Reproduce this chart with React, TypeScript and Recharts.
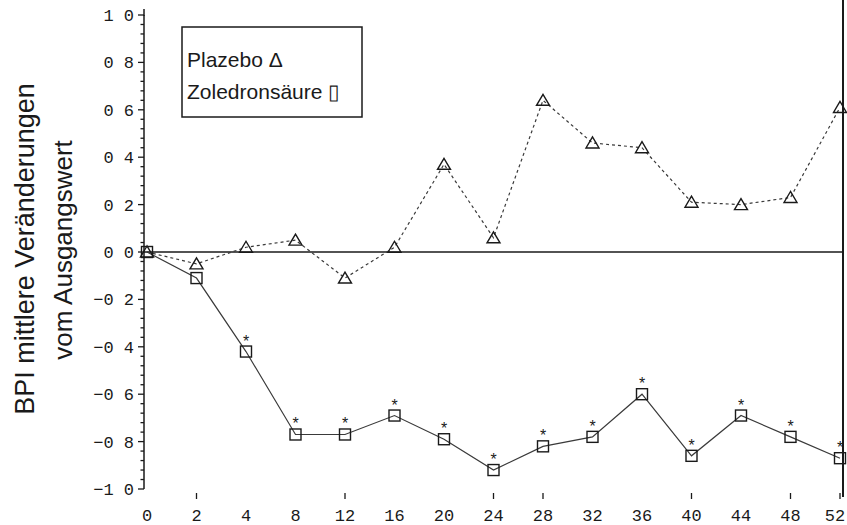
import React from 'react';
import { LineChart, Line, XAxis, YAxis, ReferenceLine } from 'recharts';

const weeks = ['0', '2', '4', '8', '12', '16', '20', '24', '28', '32', '36', '40', '44', '48', '52'];
const plazebo = [0, -0.05, 0.02, 0.05, -0.11, 0.02, 0.37, 0.06, 0.64, 0.46, 0.44, 0.21, 0.2, 0.23, 0.61];
const zoledron = [0, -0.11, -0.42, -0.77, -0.77, -0.69, -0.79, -0.92, -0.82, -0.78, -0.6, -0.86, -0.69, -0.78, -0.87];
const significant = [false, false, true, true, true, true, true, true, true, true, true, true, true, true, true];
const markedWeeks = ['2', '12', '24', '28', '40', '48', '52'];

const yMajorValues = [-1, -0.8, -0.6, -0.4, -0.2, 0, 0.2, 0.4, 0.6, 0.8, 1];
const yMajorLabels = ['\u22121 0', '\u22120 8', '\u22120 6', '\u22120 4', '\u22120 2', '0 0', '0 2', '0 4', '0 6', '0 8', '1 0'];

const seriesNames = ['Plazebo \u0394', 'Zoledronsäure \u25AF'];

const data = weeks.map((w, i) => ({
  week: w,
  plazebo: plazebo[i],
  zoledron: zoledron[i],
  sig: significant[i],
}));

// minor ticks: 4 subdivisions between major ticks
const allTicks: number[] = [];
for (let i = 0; i < yMajorValues.length; i++) {
  allTicks.push(yMajorValues[i]);
  if (i < yMajorValues.length - 1) {
    const a = yMajorValues[i];
    const b = yMajorValues[i + 1];
    for (let k = 1; k < 5; k++) allTicks.push(Math.round((a + ((b - a) * k) / 5) * 1000) / 1000);
  }
}

const INK = '#1a1a1a';
const LINE = '#3a3a3a';
const TICK_FONT = '"Liberation Mono", "DejaVu Sans Mono", monospace';
const TEXT_FONT = '"Liberation Sans", Arial, sans-serif';
const CHART_W = 847;

const YTick = (props: any) => {
  const { x, y, payload } = props;
  const idx = yMajorValues.findIndex((v) => Math.abs(v - payload.value) < 1e-6);
  const major = idx >= 0;
  return (
    <g>
      <line x1={x - (major ? 6 : 3.5)} x2={x} y1={y} y2={y} stroke={INK} strokeWidth={1.3} />
      {major && (
        <text x={x - 10} y={y + 6} textAnchor="end" fontFamily={TICK_FONT} fontSize={17} fill={INK}>
          {yMajorLabels[idx]}
        </text>
      )}
    </g>
  );
};

const XTick = (props: any) => {
  const { x, y, payload } = props;
  const marked = markedWeeks.includes(String(payload.value));
  const tx = Math.min(x, CHART_W - 12);
  return (
    <g>
      {marked && <line x1={x} x2={x} y1={y + 4} y2={y + 10} stroke={INK} strokeWidth={1.3} />}
      <text x={tx} y={y + 32} textAnchor="middle" fontFamily={TICK_FONT} fontSize={17} fill={INK}>
        {payload.value}
      </text>
    </g>
  );
};

const TriangleDot = (props: any) => {
  const { cx, cy, index } = props;
  if (cx == null || cy == null) return <g key={`t${index}`} />;
  return (
    <polygon
      key={`t${index}`}
      points={`${cx},${cy - 6} ${cx - 6.5},${cy + 5} ${cx + 6.5},${cy + 5}`}
      fill="none"
      stroke={INK}
      strokeWidth={1.4}
    />
  );
};

const SquareDot = (props: any) => {
  const { cx, cy, index, payload } = props;
  if (cx == null || cy == null) return <g key={`s${index}`} />;
  return (
    <g key={`s${index}`}>
      <rect x={cx - 5.5} y={cy - 5.5} width={11} height={11} fill="none" stroke={INK} strokeWidth={1.4} />
      {payload && payload.sig && (
        <text x={cx} y={cy - 5} textAnchor="middle" fontFamily={TEXT_FONT} fontSize={16} fill={INK}>
          *
        </text>
      )}
    </g>
  );
};

export default function App() {
  return (
    <div style={{ position: 'absolute', left: 0, top: 0, width: 847, height: 525, background: '#fff' }}>
      <LineChart width={847} height={525} data={data} margin={{ top: 15, right: 4, bottom: 0, left: 0 }}>
        <XAxis
          dataKey="week"
          type="category"
          height={36}
          axisLine={false}
          tickLine={false}
          tickSize={0}
          tickMargin={0}
          interval={0}
          padding={{ left: 3, right: 3 }}
          tick={<XTick />}
        />
        <YAxis
          type="number"
          domain={[-1, 1]}
          ticks={allTicks}
          interval={0}
          width={144}
          tickLine={false}
          tickSize={0}
          tickMargin={0}
          axisLine={{ stroke: INK, strokeWidth: 1.5 }}
          tick={<YTick />}
          allowDataOverflow
        />
        <ReferenceLine y={0} stroke={INK} strokeWidth={1.6} />
        <Line
          type="linear"
          dataKey="zoledron"
          name={seriesNames[1]}
          stroke={LINE}
          strokeWidth={1.2}
          dot={(p: any) => <SquareDot {...p} />}
          activeDot={false}
          isAnimationActive={false}
        />
        <Line
          type="linear"
          dataKey="plazebo"
          name={seriesNames[0]}
          stroke={LINE}
          strokeWidth={1.2}
          strokeDasharray="3 3"
          dot={(p: any) => <TriangleDot {...p} />}
          activeDot={false}
          isAnimationActive={false}
        />
      </LineChart>
      <svg
        width={847}
        height={525}
        style={{ position: 'absolute', left: 0, top: 0, pointerEvents: 'none' }}
      >
        <line x1={843} x2={843} y1={0} y2={497} stroke={INK} strokeWidth={2} />
        <line x1={144} x2={144} y1={9} y2={16} stroke={INK} strokeWidth={1.5} />
        <rect x={182} y={27} width={180} height={90} fill="#fff" stroke={INK} strokeWidth={1.5} />
        <text x={187} y={67} fontFamily={TEXT_FONT} fontSize={21} fill={INK}>
          {seriesNames[0]}
        </text>
        <text x={187} y={99} fontFamily={TEXT_FONT} fontSize={21} fill={INK}>
          {seriesNames[1]}
        </text>
        <text transform="rotate(-90)" x={-249} y={34} textAnchor="middle" fontFamily={TEXT_FONT} fontSize={27} fill={INK}>
          BPI mittlere Veränderungen
        </text>
        <text transform="rotate(-90)" x={-250} y={72} textAnchor="middle" fontFamily={TEXT_FONT} fontSize={26} fill={INK}>
          vom Ausgangswert
        </text>
      </svg>
    </div>
  );
}
